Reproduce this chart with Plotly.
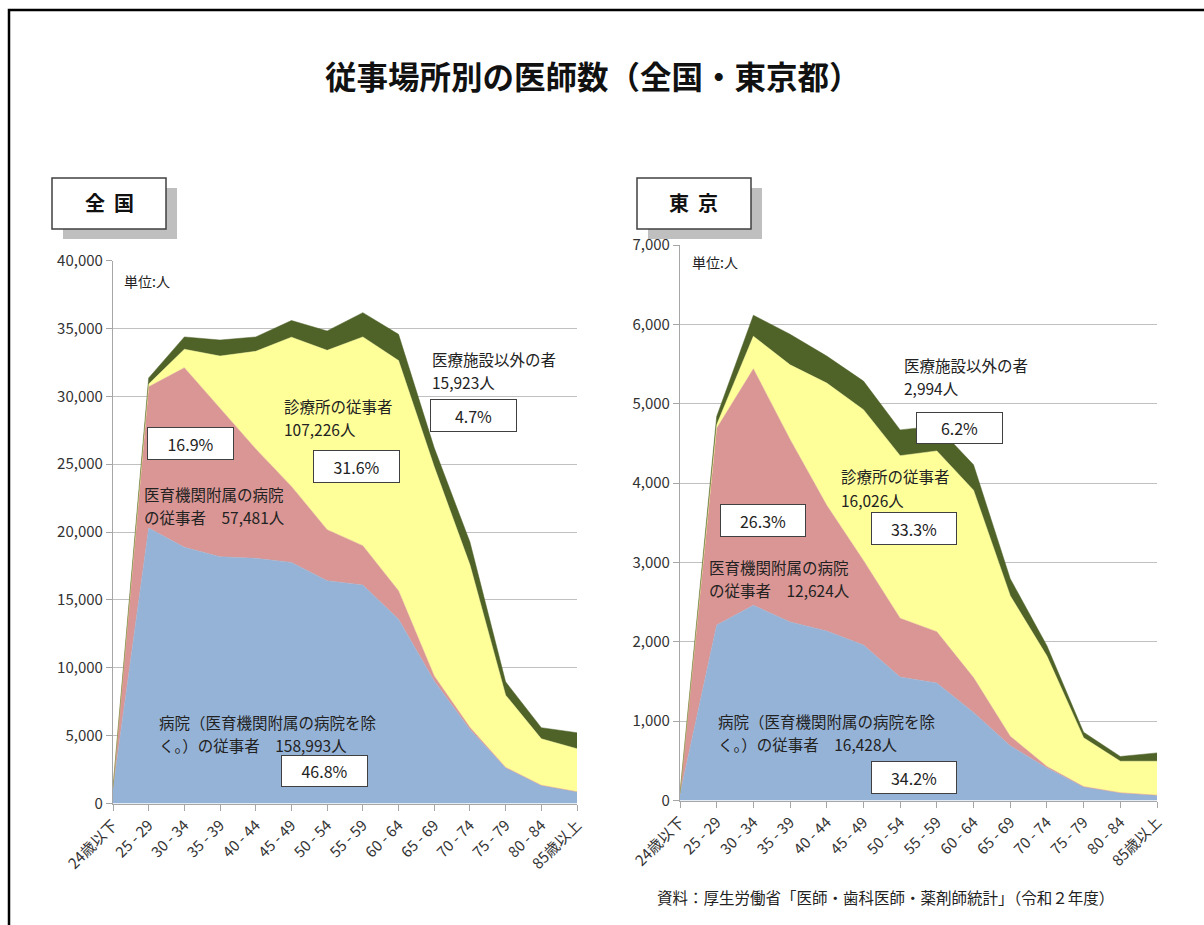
import plotly.graph_objects as go

W, H = 1204, 925

# ---------------- data ----------------
ages = ["24歳以下", "25 - 29", "30 - 34", "35 - 39", "40 - 44", "45 - 49", "50 - 54",
        "55 - 59", "60 - 64", "65 - 69", "70 - 74", "75 - 79", "80 - 84", "85歳以上"]

series_names = ["病院（医育機関附属の病院を除く。）の従事者", "医育機関附属の病院の従事者",
                "診療所の従事者", "医療施設以外の者"]
series_colors = ["#95B3D7", "#D99694", "#FFFF99", "#4F6228"]

zenkoku_hospital = [1100, 20300, 18870, 18180, 18060, 17760, 16410, 16090, 13580, 9030, 5460, 2630, 1330, 860]
zenkoku_univ = [60, 10400, 13230, 10900, 8060, 5600, 3760, 2900, 2090, 370, 150, 30, 15, 10]
zenkoku_clinic = [20, 200, 1360, 3880, 7190, 10990, 13210, 15380, 16960, 15400, 11970, 5320, 3420, 3165]
zenkoku_other = [10, 450, 910, 1180, 1060, 1230, 1430, 1790, 1930, 1400, 1680, 980, 820, 1180]

tokyo_hospital = [80, 2210, 2460, 2250, 2135, 1960, 1555, 1480, 1110, 690, 410, 170, 95, 65]
tokyo_univ = [10, 2480, 2980, 2300, 1585, 1065, 741, 647, 439, 120, 20, 5, 3, 2]
tokyo_clinic = [2, 45, 410, 940, 1540, 1900, 2049, 2278, 2361, 1770, 1390, 615, 397, 428]
tokyo_other = [1, 105, 265, 385, 340, 360, 325, 315, 320, 215, 130, 70, 60, 105]

zenkoku_ticks = [0, 5000, 10000, 15000, 20000, 25000, 30000, 35000, 40000]
tokyo_ticks = [0, 1000, 2000, 3000, 4000, 5000, 6000, 7000]

title_text = "従事場所別の医師数（全国・東京都）"
source_text = "資料：厚生労働省「医師・歯科医師・薬剤師統計」（令和２年度）"

# ---------------- helpers ----------------
FONT = "Noto Sans CJK JP, Noto Sans, sans-serif"


def px(x):
    return x / W


def py(y):
    return 1 - y / H


fig = go.Figure()

for data, xa, ya, grp in [
    ([zenkoku_hospital, zenkoku_univ, zenkoku_clinic, zenkoku_other], "x", "y", "L"),
    ([tokyo_hospital, tokyo_univ, tokyo_clinic, tokyo_other], "x2", "y2", "R"),
]:
    for vals, name, col in zip(data, series_names, series_colors):
        fig.add_trace(go.Scatter(
            x=ages, y=vals, name=name, mode="lines", stackgroup=grp,
            line=dict(width=0.5, color=col), fillcolor=col,
            xaxis=xa, yaxis=ya, showlegend=False, hoverinfo="skip"))

axis_common = dict(
    showgrid=False, zeroline=False, showline=True, linecolor="#A6A6A6", linewidth=1.2,
    ticks="outside", ticklen=6, tickcolor="#A6A6A6", tickwidth=1.2,
    tickfont=dict(family=FONT, size=15, color="#333333"), automargin=False,
)

yaxis_common = dict(axis_common)
yaxis_common.update(showgrid=True, gridcolor="#C0C0C0", gridwidth=1.3)

fig.update_layout(
    width=W, height=H, template="none",
    margin=dict(l=0, r=0, t=0, b=0),
    paper_bgcolor="white", plot_bgcolor="rgba(0,0,0,0)",
    xaxis=dict(axis_common, domain=[px(113), px(577)], anchor="y", type="category",
               range=[0, 13], tickangle=-45),
    yaxis=dict(yaxis_common, domain=[py(803.5), py(260.5)], anchor="x",
               range=[0, 40000], tickvals=zenkoku_ticks,
               ticktext=[f"{v:,}" for v in zenkoku_ticks]),
    xaxis2=dict(axis_common, domain=[px(680), px(1157)], anchor="y2", type="category",
                range=[0, 13], tickangle=-45),
    yaxis2=dict(yaxis_common, domain=[py(800.5), py(245)], anchor="x2",
                range=[0, 7000], tickvals=tokyo_ticks,
                ticktext=[f"{v:,}" for v in tokyo_ticks]),
)

shapes = []
# outer frame (left and top)
shapes.append(dict(type="path", xref="paper", yref="paper",
                   path=f"M {px(9)} {py(925)} L {px(9)} {py(10)} L {px(1204)} {py(10)}",
                   line=dict(color="#000000", width=2.5)))
# panel label boxes with shadow
for x0, x1 in [(52, 166), (637, 751)]:
    shapes.append(dict(type="rect", xref="paper", yref="paper",
                       x0=px(x0 + 11), x1=px(x1 + 11), y0=py(239), y1=py(188),
                       fillcolor="#BFBFBF", line=dict(width=0)))
    shapes.append(dict(type="rect", xref="paper", yref="paper",
                       x0=px(x0), x1=px(x1), y0=py(229), y1=py(178),
                       fillcolor="white", line=dict(color="#404040", width=1.5)))
fig.update_layout(shapes=shapes)

ann = []
ann.append(dict(text=f"<b>{title_text}</b>", x=px(593), y=py(75), xref="paper", yref="paper",
                showarrow=False, font=dict(family=FONT, size=31.5, color="#111111"),
                xanchor="center", yanchor="middle"))
ann.append(dict(text="<b>全&nbsp;&nbsp;国</b>", x=px(109), y=py(203), xref="paper", yref="paper",
                showarrow=False, font=dict(family=FONT, size=20, color="#111111"),
                xanchor="center", yanchor="middle"))
ann.append(dict(text="<b>東&nbsp;&nbsp;京</b>", x=px(694), y=py(203), xref="paper", yref="paper",
                showarrow=False, font=dict(family=FONT, size=20, color="#111111"),
                xanchor="center", yanchor="middle"))

# (lines of text, left x, centre y of the text block)
labels = [
    (["単位:人"], 122, 281, 14),
    (["医療施設以外の者", "15,923人"], 430, 370, 15.5),
    (["診療所の従事者", "107,226人"], 282, 418, 15.5),
    (["医育機関附属の病院", "の従事者　57,481人"], 142, 505.5, 15.5),
    (["病院（医育機関附属の病院を除", "く。）の従事者　158,993人"], 157, 733, 15.5),
    (["単位:人"], 690, 262, 14),
    (["医療施設以外の者", "2,994人"], 902, 377, 15.5),
    (["診療所の従事者", "16,026人"], 839, 488, 15.5),
    (["医育機関附属の病院", "の従事者　12,624人"], 707, 578, 15.5),
    (["病院（医育機関附属の病院を除", "く。）の従事者　16,428人"], 716, 732, 15.5),
]
LINE_GAP = 23
for lines, x, y, s in labels:
    n = len(lines)
    for i, t in enumerate(lines):
        yy = y + (i - (n - 1) / 2) * LINE_GAP
        ann.append(dict(text=t, x=px(x), y=py(yy), xref="paper", yref="paper",
                        showarrow=False, font=dict(family=FONT, size=s, color="#222222"),
                        align="left", xanchor="left", yanchor="middle"))

boxes = [
    ("16.9%", 147, 234, 427, 460),
    ("31.6%", 313, 400, 450, 483),
    ("4.7%", 430, 517, 399, 432),
    ("46.8%", 281, 368, 755, 787),
    ("6.2%", 916, 1003, 412, 444),
    ("33.3%", 871, 957, 512, 545),
    ("26.3%", 720, 806, 504, 537),
    ("34.2%", 871, 957, 761, 794),
]
for t, x0, x1, y0, y1 in boxes:
    ann.append(dict(text=t, x=px((x0 + x1) / 2), y=py((y0 + y1) / 2), xref="paper", yref="paper",
                    showarrow=False, font=dict(family=FONT, size=16, color="#222222"),
                    xanchor="center", yanchor="middle", width=x1 - x0 - 2, height=y1 - y0 - 2,
                    bgcolor="white", bordercolor="#404040", borderwidth=1, borderpad=0))

ann.append(dict(text=source_text, x=px(655), y=py(897), xref="paper", yref="paper",
                showarrow=False, font=dict(family=FONT, size=15.5, color="#222222"),
                xanchor="left", yanchor="middle"))

fig.update_layout(annotations=ann)

fig.write_html("out.html", config={"displayModeBar": False},
               post_script="document.body.style.margin='0px';document.body.style.overflow='hidden';")
